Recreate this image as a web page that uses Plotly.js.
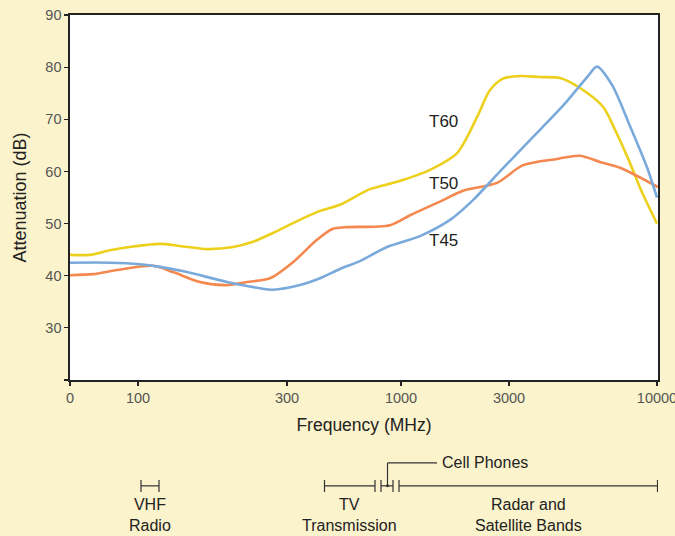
<!DOCTYPE html>
<html>
<head>
<meta charset="utf-8">
<script src="https://cdn.plot.ly/plotly-3.0.1.min.js"></script>
<style>
  html, body { margin: 0; padding: 0; background: #fbf3cc; }
  #chart { width: 675px; height: 536px; }
</style>
</head>
<body>
<div id="chart"></div>
<script>
// Frequency axis is drawn on a warped scale: tick positions (scale units) and labels
const tickLabels = ['0', '100', '300', '1000', '3000', '10000'];
const tickPos = [0, 68, 217, 331, 439, 587];

// T60
const t60X = [0, 20, 40, 63, 90, 110, 137, 163, 183, 203, 223, 247, 270, 280, 300, 327, 360, 387, 407, 420, 433, 450, 470, 490, 510, 533, 545, 558, 572, 587];
const t60Y = [44.0, 44.0, 44.9, 45.6, 46.1, 45.7, 45.1, 45.5, 46.5, 48.2, 50.1, 52.2, 53.6, 54.6, 56.6, 58.0, 60.3, 63.5, 70.4, 75.6, 77.8, 78.3, 78.1, 77.9, 76.0, 72.4, 68.0, 62.5, 56.0, 50.0];

// T50
const t50X = [0, 23, 47, 83, 103, 130, 157, 177, 200, 223, 247, 263, 275, 320, 340, 373, 393, 427, 453, 487, 510, 530, 550, 588];
const t50Y = [40.1, 40.3, 41.1, 41.9, 40.7, 38.8, 38.2, 38.8, 39.5, 42.6, 46.9, 49.0, 49.3, 49.7, 51.6, 54.5, 56.3, 57.8, 61.2, 62.4, 63.0, 61.8, 60.7, 57.0];

// T45
const t45X = [0, 40, 70, 90, 117, 157, 190, 203, 230, 250, 270, 290, 317, 350, 380, 403, 430, 460, 493, 518, 527, 542, 560, 577, 587];
const t45Y = [42.5, 42.5, 42.2, 41.7, 40.7, 38.8, 37.6, 37.3, 38.2, 39.5, 41.3, 42.8, 45.5, 47.6, 50.7, 54.5, 60.0, 66.0, 72.6, 78.3, 80.1, 76.6, 68.7, 60.8, 55.0];

const seriesNames = ['T60', 'T50', 'T45'];
const seriesColors = ['#ecd01c', '#f4884f', '#7aaadb'];
const labelX = [373, 373, 373];
const labelY = [69.5, 57.6, 46.7];

// Frequency bands (scale units)
const bandNames = ['VHF<br>Radio', 'TV<br>Transmission', 'Radar and<br>Satellite Bands'];
const bandStart = [71, 254.5, 329];
const bandEnd = [89, 305, 587.5];
const cellTicks = [311, 323];
const cellPoint = 317.5;

const font = 'Liberation Sans, Arial, Helvetica, sans-serif';

const traces = [[t60X, t60Y], [t50X, t50Y], [t45X, t45Y]].map((d, i) => ({
  x: d[0], y: d[1], type: 'scatter', mode: 'lines', name: seriesNames[i],
  line: { color: seriesColors[i], width: 2.6, shape: 'spline', smoothing: 0.8 },
  hoverinfo: 'skip'
}));

const annotations = seriesNames.map((n, i) => ({
  x: labelX[i], y: labelY[i], xref: 'x', yref: 'y', text: n, showarrow: false,
  font: { family: font, size: 17, color: '#222' }
}));

const lineY = -0.29, tickTop = -0.274, tickBot = -0.307;
const shapes = [];
const bandLine = { color: '#333', width: 1.2 };
bandNames.forEach((n, i) => {
  shapes.push({ type: 'line', xref: 'x', yref: 'paper', x0: bandStart[i], x1: bandEnd[i], y0: lineY, y1: lineY, line: bandLine });
  shapes.push({ type: 'line', xref: 'x', yref: 'paper', x0: bandStart[i], x1: bandStart[i], y0: tickTop, y1: tickBot, line: bandLine });
  shapes.push({ type: 'line', xref: 'x', yref: 'paper', x0: bandEnd[i], x1: bandEnd[i], y0: tickTop, y1: tickBot, line: bandLine });
  annotations.push({
    x: (bandStart[i] + bandEnd[i]) / 2, xref: 'x', y: -0.312, yref: 'paper', yanchor: 'top',
    text: n, showarrow: false, font: { family: font, size: 16, color: '#222' }
  });
});
// cell phone band
shapes.push({ type: 'line', xref: 'x', yref: 'paper', x0: cellTicks[0], x1: cellTicks[1], y0: lineY, y1: lineY, line: bandLine });
cellTicks.forEach(t => shapes.push({ type: 'line', xref: 'x', yref: 'paper', x0: t, x1: t, y0: tickTop, y1: tickBot, line: bandLine }));
// leader
const leaderY = -0.227;
shapes.push({ type: 'line', xref: 'x', yref: 'paper', x0: cellPoint, x1: cellPoint, y0: lineY, y1: leaderY, line: bandLine });
shapes.push({ type: 'line', xref: 'x', yref: 'paper', x0: cellPoint, x1: 367, y0: leaderY, y1: leaderY, line: bandLine });
shapes.push({ type: 'circle', xref: 'x', yref: 'paper', x0: cellPoint - 1.3, x1: cellPoint + 1.3, y0: lineY - 0.0036, y1: lineY + 0.0036, fillcolor: '#222', line: { width: 0 } });
annotations.push({
  x: 370, xref: 'x', y: leaderY, yref: 'paper', xanchor: 'left', yanchor: 'middle',
  text: 'Cell Phones', showarrow: false, font: { family: font, size: 16, color: '#222' }
});

const layout = {
  width: 675, height: 536,
  margin: { l: 70, r: 17, t: 15, b: 156 },
  paper_bgcolor: '#fbf3cc', plot_bgcolor: '#ffffff',
  showlegend: false,
  xaxis: {
    range: [0, 588], tickmode: 'array', tickvals: tickPos, ticktext: tickLabels,
    showgrid: false, zeroline: false, showline: true, linecolor: '#222', linewidth: 1.6, mirror: true,
    ticks: 'outside', ticklen: 4, tickcolor: '#222', tickwidth: 1.2,
    ticklabeloverflow: 'allow',
    tickfont: { family: font, size: 14.5, color: '#555' },
    title: { text: 'Frequency (MHz)', font: { family: font, size: 17.5, color: '#222' }, standoff: 14 }
  },
  yaxis: {
    range: [20, 90], tickmode: 'array', tickvals: [20, 30, 40, 50, 60, 70, 80, 90],
    ticktext: ['', '30', '40', '50', '60', '70', '80', '90'],
    showgrid: false, zeroline: false, showline: true, linecolor: '#222', linewidth: 1.6, mirror: true,
    ticks: 'outside', ticklen: 4, tickcolor: '#222', tickwidth: 1.2,
    tickfont: { family: font, size: 14.5, color: '#555' },
    title: { text: 'Attenuation (dB)', font: { family: font, size: 18, color: '#222' }, standoff: 14 }
  },
  annotations: annotations,
  shapes: shapes
};

Plotly.newPlot('chart', traces, layout, { displayModeBar: false, staticPlot: true });
</script>
</body>
</html>
